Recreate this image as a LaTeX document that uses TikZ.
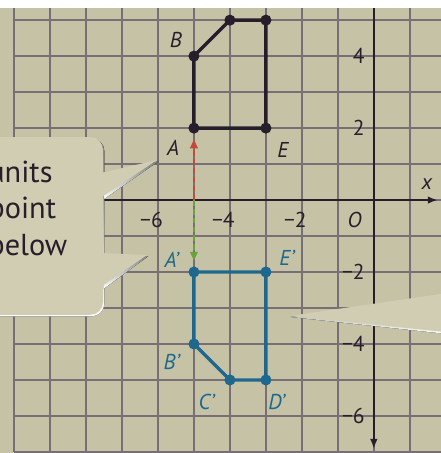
\documentclass[tikz,border=0pt]{standalone}
\usepackage{fontspec}
\setmainfont{PT Sans}
\usetikzlibrary{arrows.meta}
\definecolor{paper}{RGB}{198,194,166}
\definecolor{bubble}{RGB}{208,205,178}
\definecolor{shade}{RGB}{168,164,138}
\definecolor{gridc}{RGB}{118,112,118}
\definecolor{ink}{RGB}{38,30,42}
\definecolor{tealc}{RGB}{30,104,142}
\definecolor{dashred}{RGB}{198,72,56}
\definecolor{dashgreen}{RGB}{104,164,56}

\begin{document}
\begin{tikzpicture}[
    font=\fontsize{17}{20}\selectfont,
    gridl/.style={gridc, line width=1.2pt},
    axis/.style={ink, line width=1.9pt, -{Latex[length=8pt,width=6pt]}},
    lab/.style={font=\fontsize{17}{20}\selectfont\itshape, text=#1, inner sep=0pt},
    tick/.style={text=ink, inner sep=0pt},
    poly/.style={line width=2.7pt, line join=round, draw=#1},
    move/.style={line width=1.6pt, dash pattern=on 4.5pt off 2.5pt, shorten >=9pt,
      -{Triangle[length=7pt,width=6pt]}, #1},
    callout/.style={fill=bubble},
  ]
  \useasboundingbox (-10.39,-7.03) rectangle (1.86,5.56);
  \clip (-10.39,-7.03) rectangle (1.86,5.56);
  \fill[paper] (-10.5,-7.1) rectangle (2,5.6);
  \draw[gridl] (-10,-7) grid (1.9,5.6);

  % axes
  \coordinate (xl) at (-10,0);
  \coordinate (xr) at (1.78,0);
  \coordinate (yt) at (0,5.6);
  \coordinate (yb) at (0,-6.92);
  \draw[axis] (xl) -- (xr);
  \draw[axis] (yt) -- (yb);
  \node[lab=ink] (xlab) at (1.47,0.45) {x};
  \node[lab=ink, anchor=north east] (orig) at (-0.33,-0.33) {O};
  \foreach \v in {6,4,2}
    \node[tick, anchor=north east] (tx\v) at (-\v+0.14,-0.33) {−\v};
  \foreach \v in {4,2}
    \node[tick, anchor=east] (ty\v) at (-0.25,\v) {\v};
  \foreach \v in {2,4,6}
    \node[tick, anchor=east] (tym\v) at (-0.25,-\v) {−\v};

  % figure and its image
  \coordinate (A) at (-5,2);
  \coordinate (B) at (-5,4);
  \coordinate (C) at (-4,5);
  \coordinate (D) at (-3,5);
  \coordinate (E) at (-3,2);
  \coordinate (Ap) at (-5,-2);
  \coordinate (Bp) at (-5,-4);
  \coordinate (Cp) at (-4,-5);
  \coordinate (Dp) at (-3,-5);
  \coordinate (Ep) at (-3,-2);
  \draw[poly=ink] (A) -- (B) -- (C) -- (D) -- (E) -- cycle;
  \draw[poly=tealc] (Ap) -- (Bp) -- (Cp) -- (Dp) -- (Ep) -- cycle;
  \foreach \p in {A,B,C,D,E}
    \fill[ink] (\p) circle (4.4pt);
  \foreach \p in {Ap,Bp,Cp,Dp,Ep}
    \fill[tealc] (\p) circle (4.4pt);

  \node[lab=ink] (lA) at (-5.58,1.44) {A};
  \node[lab=ink] (lB) at (-5.5,4.44) {B};
  \node[lab=ink] (lE) at (-2.53,1.39) {E};
  \node[lab=tealc] (lAp) at (-5.62,-1.65) {A'};
  \node[lab=tealc] (lEp) at (-2.42,-1.6) {E'};
  \node[lab=tealc] (lBp) at (-5.62,-4.5) {B'};
  \node[lab=tealc] (lCp) at (-4.65,-5.6) {C'};
  \node[lab=tealc] (lDp) at (-2.7,-5.6) {D'};

  \coordinate (ax) at (-5,0);
  \draw[move=dashred] (ax) -- (A);
  \draw[move=dashgreen] (ax) -- (Ap);

  % speech bubbles
  \fill[shade, rounded corners=10pt] (-11,1.71) rectangle (-7.49,-3.23);
  \fill[shade] (-7.5,0.72) -- (-5.98,1.08) -- (-7.5,0.03) -- cycle;
  \fill[shade] (-7.5,-1.5) -- (-6.27,-1.56) -- (-7.5,-2.46) -- cycle;
  \fill[callout, rounded corners=10pt] (-11,1.75) rectangle (-7.53,-3.19);
  \fill[callout] (-7.6,0.75) -- (-6.03,1.11) -- (-7.6,0.06) -- cycle;
  \fill[callout] (-7.6,-1.47) -- (-6.31,-1.53) -- (-7.6,-2.42) -- cycle;
  \fill[shade] (-2.31,-3.25) -- (2.2,-2.6) -- (2.2,-3.74) -- cycle;
  \fill[callout] (-2.33,-3.22) -- (2.2,-2.56) -- (2.2,-3.69) -- cycle;
  \node[anchor=base west, align=left, inner sep=0pt, text=ink,
    font=\fontsize{24}{28.7}\selectfont] (note) at (-10.72,-1.53) {units\\point\\below};

  \fill[white] (-10.5,5.33) rectangle (2,5.6);
\end{tikzpicture}
\end{document}
